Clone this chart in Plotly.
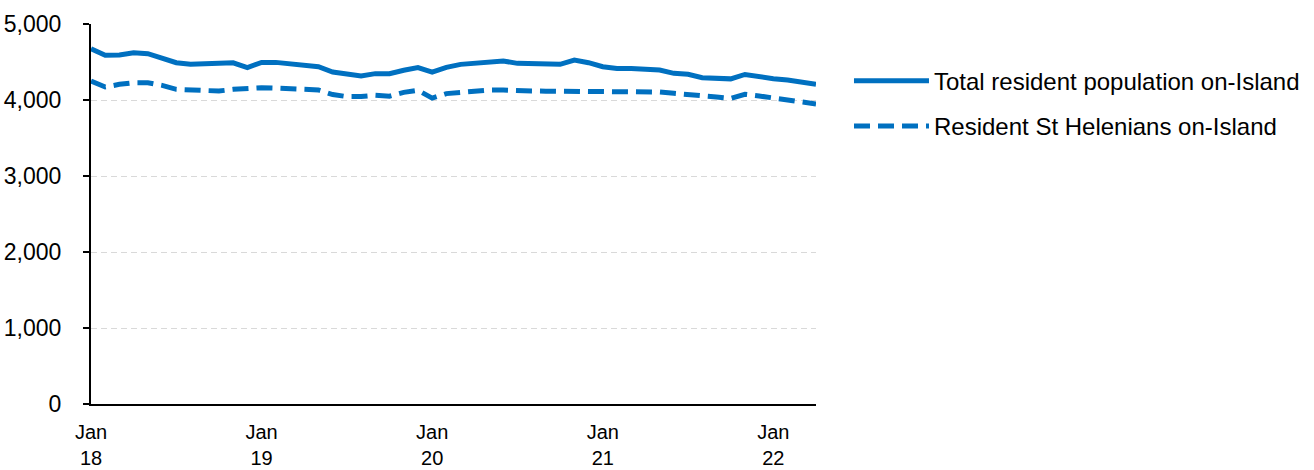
import plotly.graph_objects as go
import pandas as pd

# Monthly observations, Jan 2018 - Apr 2022
months = pd.date_range("2018-01-01", "2022-04-01", freq="MS").strftime("%b %y").tolist()

total_resident = [
    4675, 4590, 4592, 4622, 4610, 4557, 4491, 4470, 4478, 4482, 4490, 4426,
    4495, 4495, 4476, 4452, 4438, 4368, 4340, 4315, 4347, 4345, 4392, 4426,
    4368, 4430, 4469, 4482, 4508, 4513, 4482, 4482, 4486, 4470, 4526, 4491,
    4438, 4415, 4413, 4410, 4395, 4351, 4338, 4294, 4280, 4278, 4336, 4305,
    4280, 4263, 4240, 4208,
]
st_helenians = [
    4250, 4171, 4206, 4228, 4228, 4193, 4140, 4132, 4127, 4118, 4140, 4158,
    4162, 4156, 4150, 4138, 4132, 4072, 4045, 4045, 4062, 4050, 4100, 4127,
    4025, 4084, 4105, 4118, 4132, 4132, 4118, 4118, 4116, 4114, 4120, 4110,
    4110, 4110, 4108, 4105, 4105, 4088, 4075, 4066, 4040, 4022, 4075, 4053,
    4028, 3996, 3974, 3948,
]

series_names = ["Total resident population on-Island", "Resident St Helenians on-Island"]

x_tick_labels = ["Jan<br>18", "Jan<br>19", "Jan<br>20", "Jan<br>21", "Jan<br>22"]
y_tick_values = [0, 1000, 2000, 3000, 4000, 5000]

idx = list(range(len(months)))
jan_idx = [i for i, m in enumerate(months) if m.startswith("Jan")]

BLUE = "#0070C0"
FONT = "Arial, 'Liberation Sans', sans-serif"

fig = go.Figure()
fig.add_trace(go.Scatter(
    x=idx, y=total_resident, mode="lines", name=series_names[0],
    line=dict(color=BLUE, width=5), legendgroup="a",
    customdata=months, hovertemplate="%{customdata}: %{y:,}<extra></extra>",
))
fig.add_trace(go.Scatter(
    x=idx, y=st_helenians, mode="lines", name=series_names[1],
    line=dict(color=BLUE, width=5, dash="16px,8px"), legendgroup="b",
    customdata=months, hovertemplate="%{customdata}: %{y:,}<extra></extra>",
))

fig.update_layout(
    width=1314, height=470,
    margin=dict(l=91, r=498, t=24, b=66, autoexpand=False),
    paper_bgcolor="white", plot_bgcolor="white",
    font=dict(family=FONT, size=22, color="#000000"),
    showlegend=True,
    legend=dict(
        x=1.0455, y=0.909, xanchor="left", yanchor="top",
        font=dict(family=FONT, size=24, color="#000000"),
        tracegroupgap=11, itemwidth=75,
        bgcolor="rgba(0,0,0,0)",
    ),
    xaxis=dict(
        range=[0, len(months) - 1], automargin=False,
        tickmode="array", tickvals=jan_idx, ticktext=x_tick_labels,
        showgrid=False, zeroline=False,
        showline=True, linecolor="#000000", linewidth=2,
        ticks="outside", ticklen=9, tickcolor="rgba(0,0,0,0)",
        tickfont=dict(family=FONT, size=20, color="#000000"),
    ),
    yaxis=dict(
        range=[0, 5000], automargin=False,
        tickmode="array", tickvals=y_tick_values, tickformat=",",
        showgrid=True, gridcolor="#D9D9D9", gridwidth=1, griddash="6px,4px",
        zeroline=False,
        showline=True, linecolor="#000000", linewidth=2,
        ticks="outside", ticklen=6, tickcolor="#000000", tickwidth=2,
        ticklabelstandoff=17,
        tickfont=dict(family=FONT, size=23, color="#000000"),
    ),
)

# remove the browser's default 8px body margin so the figure fills the window
fig.write_html(
    "out.html",
    config={"displayModeBar": False},
    post_script="document.body.style.margin='0';document.body.style.overflow='hidden';",
)
